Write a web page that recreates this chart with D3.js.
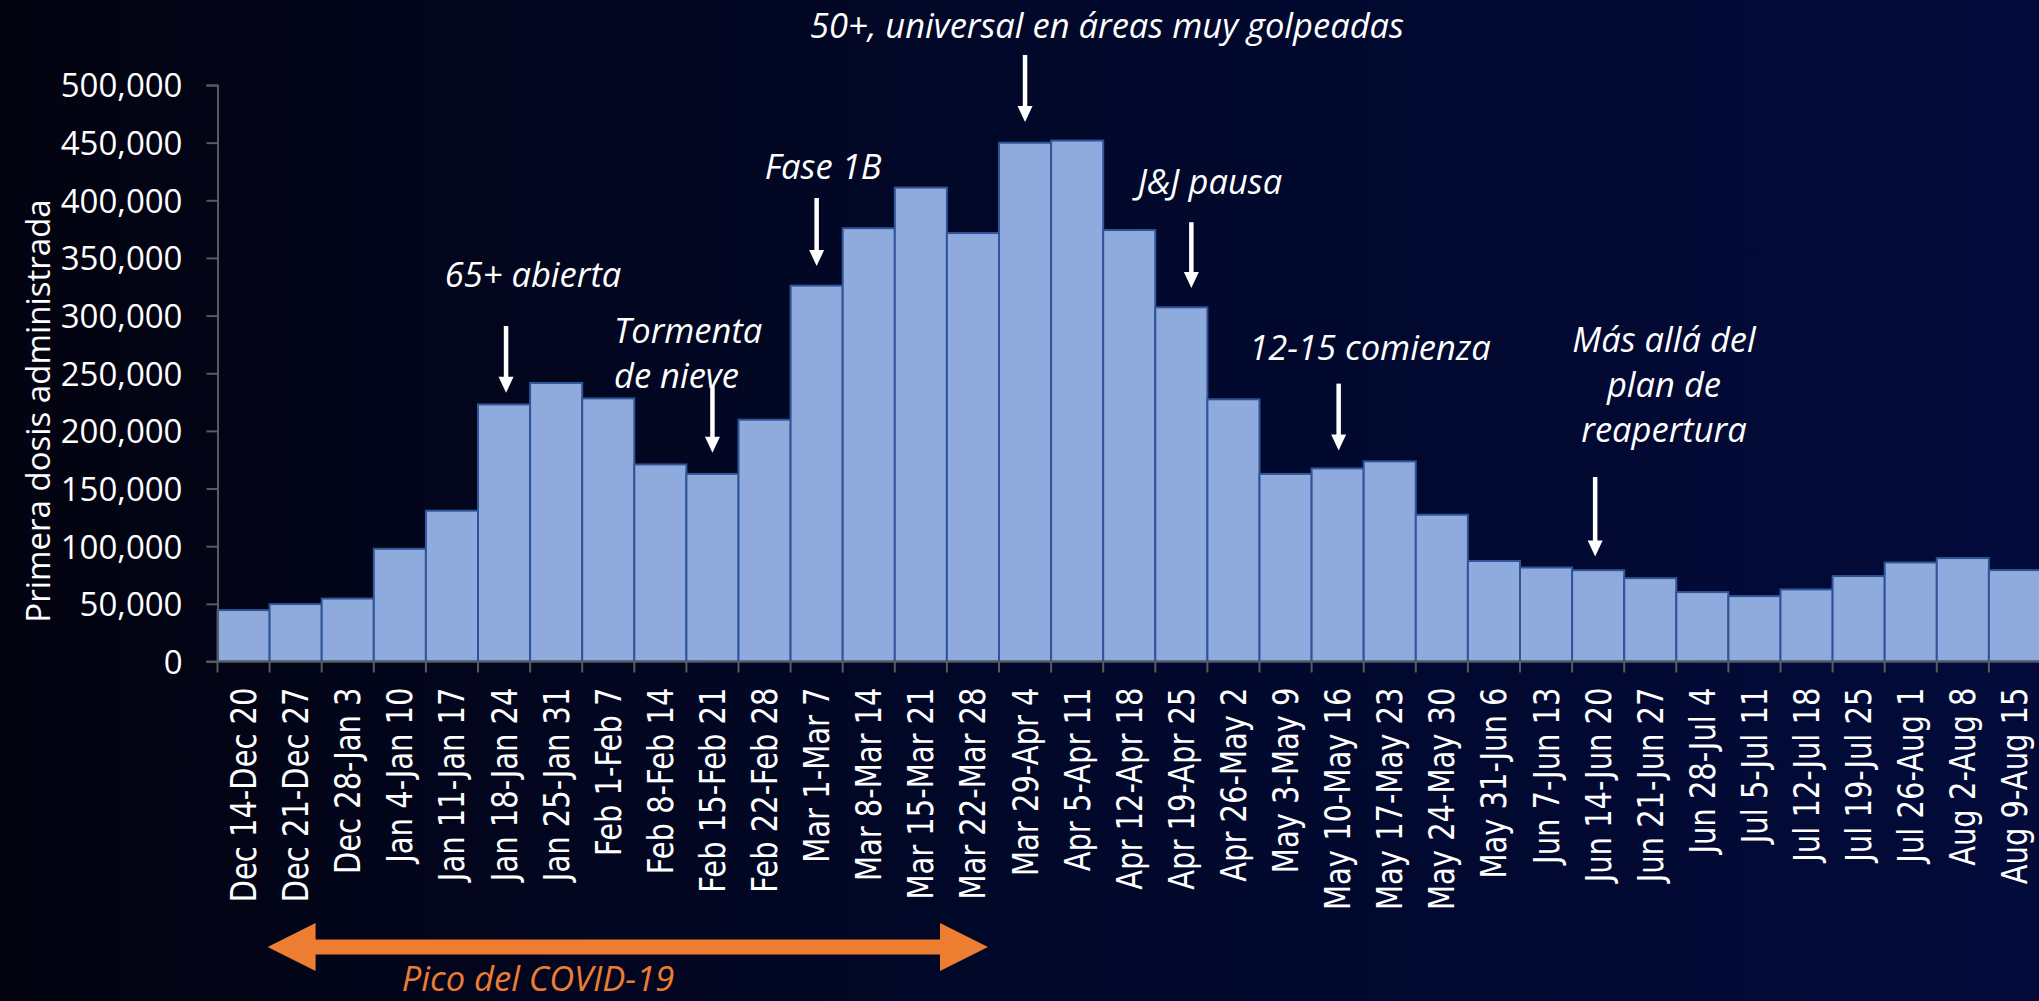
<!DOCTYPE html>
<html>
<head>
<meta charset="utf-8">
<script src="https://cdn.jsdelivr.net/npm/d3@7"></script>
<style>
  html, body { margin: 0; padding: 0; background: #02040f; overflow: hidden; }
  svg { display: block; }
</style>
</head>
<body>
<svg width="2039" height="1001"></svg>
<script>
const width = 2039
const height = 1001

// weekly first doses
const weeks = [
  "Dec 14-Dec 20", "Dec 21-Dec 27", "Dec 28-Jan 3", "Jan 4-Jan 10", "Jan 11-Jan 17",
  "Jan 18-Jan 24", "Jan 25-Jan 31", "Feb 1-Feb 7", "Feb 8-Feb 14", "Feb 15-Feb 21",
  "Feb 22-Feb 28", "Mar 1-Mar 7", "Mar 8-Mar 14", "Mar 15-Mar 21", "Mar 22-Mar 28",
  "Mar 29-Apr 4", "Apr 5-Apr 11", "Apr 12-Apr 18", "Apr 19-Apr 25", "Apr 26-May 2",
  "May 3-May 9", "May 10-May 16", "May 17-May 23", "May 24-May 30", "May 31-Jun 6",
  "Jun 7-Jun 13", "Jun 14-Jun 20", "Jun 21-Jun 27", "Jun 28-Jul 4", "Jul 5-Jul 11",
  "Jul 12-Jul 18", "Jul 19-Jul 25", "Jul 26-Aug 1", "Aug 2-Aug 8", "Aug 9-Aug 15"
]
const first_doses = [
  44600, 49800, 54600, 97800, 130800,
  223000, 241600, 228200, 170900, 162700,
  209700, 326000, 375800, 411000, 371600,
  449900, 451800, 374200, 307200, 227400,
  162700, 167500, 173600, 127300, 87200,
  81500, 79200, 72300, 60200, 56700,
  62500, 74100, 85900, 89700, 79300
]
const y_ticks = [0, 50000, 100000, 150000, 200000, 250000, 300000, 350000, 400000, 450000, 500000]
const y_title = "Primera dosis administrada"

// event annotations
const event_weeks = ["Jan 18-Jan 24", "Feb 15-Feb 21", "Mar 1-Mar 7", "Mar 29-Apr 4", "Apr 19-Apr 25", "May 10-May 16", "Jun 14-Jun 20"]
const event_labels = [
  ["65+ abierta"], ["Tormenta", "de nieve"], ["Fase 1B"],
  ["50+, universal en áreas muy golpeadas"], ["J&J pausa"], ["12-15 comienza"],
  ["Más allá del", "plan de", "reapertura"]
]
const arrow_from = [291000, 239000, 402000, 526000, 381000, 241000, 160000]
const arrow_to = [233000, 181000, 343000, 468000, 324000, 183000, 91000]

const peak_label = "Pico del COVID-19"
const peak_from = "Dec 21-Dec 27"
const peak_to = "Mar 29-Apr 4"

// layout of the annotation texts (x, first baseline, anchor) and arrow nudges
const label_layout = [
  [533, 287, "middle"], [614, 343, "start"], [823, 179, "middle"], [1107, 38, "middle"],
  [1210, 194, "middle"], [1370, 360, "middle"], [1664, 352, "middle"]
]
const arrow_dx = [2, 0, 0, 0, 10, 1, -3]
const line_gap = 45
const note_size = 34.5

const svg = d3.select("svg")

const defs = svg.append("defs")
const grad = defs.append("linearGradient").attr("id", "bg").attr("x1", "0").attr("x2", "1").attr("y1", "0").attr("y2", "0")
grad.append("stop").attr("offset", "0%").attr("stop-color", "#030310")
grad.append("stop").attr("offset", "30%").attr("stop-color", "#020620")
grad.append("stop").attr("offset", "55%").attr("stop-color", "#01082b")
grad.append("stop").attr("offset", "100%").attr("stop-color", "#020b3a")

svg.append("rect").attr("width", width).attr("height", height).attr("fill", "url(#bg)")

const x = d3.scaleBand().domain(weeks).range([217.5, 2041]).padding(0)
const y = d3.scaleLinear().domain([0, 500000]).range([661.5, 85])

const axis_color = "#5b5b5b"

// bars
svg.append("g")
  .selectAll("rect")
  .data(weeks)
  .enter()
  .append("rect")
  .attr("x", (d) => x(d))
  .attr("y", (d, i) => y(first_doses[i]))
  .attr("width", x.bandwidth())
  .attr("height", (d, i) => y(0) - y(first_doses[i]))
  .attr("fill", "#8faadc")
  .attr("stroke", "#2f5597")
  .attr("stroke-width", 2)

// y axis
const y_axis = svg.append("g")
  .attr("transform", `translate(${x.range()[0]},0)`)
  .call(d3.axisLeft(y).tickValues(y_ticks).tickFormat(d3.format(",")).tickSizeOuter(0).tickSize(11).tickPadding(24))
y_axis.select(".domain").attr("stroke", axis_color).attr("stroke-width", 2)
y_axis.selectAll(".tick line").attr("stroke", axis_color).attr("stroke-width", 2)
y_axis.selectAll(".tick text")
  .attr("fill", "#ffffff")
  .attr("font-family", "'Open Sans', sans-serif")
  .attr("font-size", 33)
  .attr("dy", "0.36em")

// x axis: ticks on category boundaries
const x_axis = svg.append("g").attr("transform", `translate(0,${y(0)})`)
x_axis.append("line")
  .attr("x1", x.range()[0] - 11).attr("x2", width)
  .attr("stroke", axis_color).attr("stroke-width", 2)
x_axis.selectAll(".bound")
  .data(weeks)
  .enter()
  .append("line")
  .attr("class", "bound")
  .attr("x1", (d) => x(d)).attr("x2", (d) => x(d))
  .attr("y1", 0).attr("y2", 11)
  .attr("stroke", axis_color).attr("stroke-width", 2)
x_axis.selectAll(".lab")
  .data(weeks)
  .enter()
  .append("text")
  .attr("class", "lab")
  .attr("transform", (d) => `translate(${x(d) + x.bandwidth() / 2},26) rotate(-90) scale(1,1.2)`)
  .attr("dy", "0.36em")
  .attr("text-anchor", "end")
  .attr("fill", "#ffffff")
  .attr("font-family", "'DejaVu Sans', sans-serif")
  .attr("font-size", 29)
  .text((d) => d)

// y title
svg.append("text")
  .attr("transform", "translate(50,411) rotate(-90)")
  .attr("text-anchor", "middle")
  .attr("fill", "#ffffff")
  .attr("font-family", "'Open Sans', sans-serif")
  .attr("font-size", 33)
  .text(y_title)

// event arrows and labels
const events = svg.append("g")
event_weeks.forEach((wk, i) => {
  const cx = x(wk) + x.bandwidth() / 2 + arrow_dx[i]
  const y0 = y(arrow_from[i])
  const y1 = y(arrow_to[i])
  events.append("line")
    .attr("x1", cx).attr("x2", cx)
    .attr("y1", y0).attr("y2", y1 - 12)
    .attr("stroke", "#ffffff").attr("stroke-width", 4.5)
  events.append("path")
    .attr("d", `M${cx - 7.5},${y1 - 16}L${cx + 7.5},${y1 - 16}L${cx},${y1}Z`)
    .attr("fill", "#ffffff")

  const [lx, ly, anchor] = label_layout[i]
  const t = events.append("text")
    .attr("fill", "#ffffff")
    .attr("font-family", "'Open Sans', sans-serif")
    .attr("font-style", "italic")
    .attr("font-size", note_size)
    .attr("text-anchor", anchor)
  event_labels[i].forEach((line, j) => {
    t.append("tspan").attr("x", lx).attr("y", ly + j * line_gap).text(line)
  })
})

// peak of covid double arrow
const orange = "#ed7d31"
const ax0 = x(peak_from) - 2
const ax1 = x(peak_to) - 11
const ay = 947
const head = 48
const shaft = 7.5
const half_head = 24
svg.append("path")
  .attr("d", `M${ax0},${ay}L${ax0 + head},${ay - half_head}L${ax0 + head},${ay - shaft}` +
    `L${ax1 - head},${ay - shaft}L${ax1 - head},${ay - half_head}L${ax1},${ay}` +
    `L${ax1 - head},${ay + half_head}L${ax1 - head},${ay + shaft}L${ax0 + head},${ay + shaft}` +
    `L${ax0 + head},${ay + half_head}Z`)
  .attr("fill", orange)

svg.append("text")
  .attr("x", 538)
  .attr("y", 991)
  .attr("text-anchor", "middle")
  .attr("fill", orange)
  .attr("font-family", "'Open Sans', sans-serif")
  .attr("font-style", "italic")
  .attr("font-size", 34.5)
  .text(peak_label)
</script>
</body>
</html>
